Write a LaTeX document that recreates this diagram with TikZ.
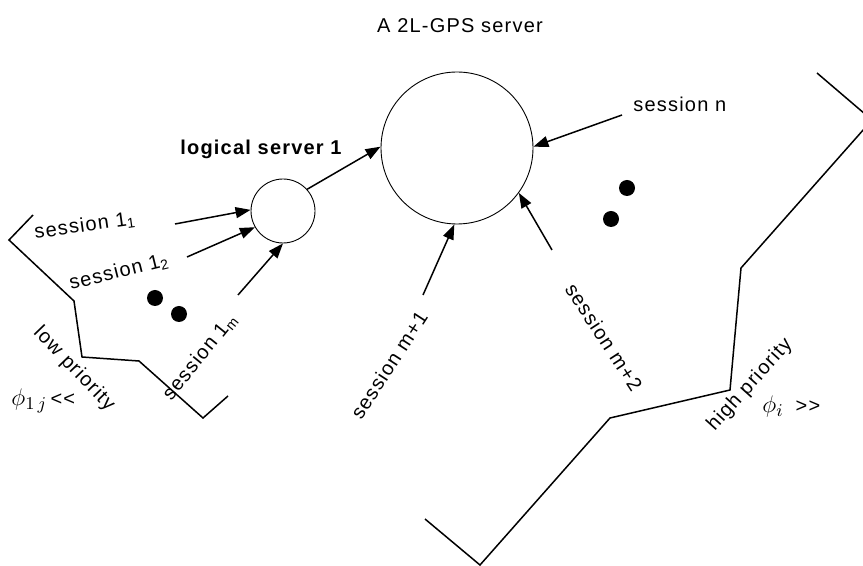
\documentclass[tikz,border=0pt]{standalone}
\usepackage{fontspec}
\setmainfont{Liberation Sans}[LetterSpace=6,Ligatures=TeXOff]
\usetikzlibrary{arrows.meta}

\begin{document}
\begin{tikzpicture}[x=0.5pt,y=-0.5pt,
    >={Triangle[length=7.5pt,width=5.5pt]},
    flow/.style={->,line width=0.75pt},
    border/.style={line width=0.75pt},
    srvcircle/.style={draw,circle,line width=0.45pt,inner sep=0pt},
    lbl/.style={font=\fontsize{10}{12}\selectfont,inner sep=0pt}]
  \useasboundingbox (0,0) rectangle (863,566);
  \clip (0,0) rectangle (863,566);

% title
  \node[lbl,anchor=base] (title) at (460,33) {A 2L-GPS server};

% servers
  \node[srvcircle,minimum size=76pt] (srv) at (457,148) {};
  \node[srvcircle,minimum size=32pt] (ls1) at (283,211) {};
  \node[lbl,anchor=base west,font=\bfseries\fontsize{10}{12}\selectfont] (ls1lbl) at (180,155) {logical server 1};

% sessions of logical server 1
  \coordinate (c11) at (175,224);
  \coordinate (c12) at (187,257);
  \coordinate (c1m) at (238,295);
  \draw[flow] (c11) -- (ls1.178);
  \draw[flow] (c12) -- (ls1.-150);
  \draw[flow] (c1m) -- (ls1.-90);
  \draw[flow] (ls1.42) -- (srv.179);

  \node[lbl,rotate=8] (s11) at (85,226) {session 1\textsubscript{1}};
  \node[lbl,rotate=14] (s12) at (119,272) {session 1\textsubscript{2}};
  \node[lbl,rotate=51] (s1m) at (200,357) {session 1\textsubscript{m}};

% sessions served directly
  \coordinate (cm1) at (423,295);
  \coordinate (cm2) at (552,250);
  \coordinate (cn) at (622,115);
  \draw[flow] (cm1) -- (srv.-92);
  \draw[flow] (cm2) -- (srv.-36);
  \draw[flow] (cn) -- (srv.1);

  \node[lbl,rotate=57] (sm1) at (389,365) {session m+1};
  \node[lbl,rotate=-57] (sm2) at (604,337) {session m+2};
  \node[lbl,anchor=base west] (sn) at (633,112) {session n};

% dots
  \foreach \x/\y in {155/298,179/314,627/188,611/219} {
      \fill (\x,\y) circle (4pt);
  }

% low priority side
  \draw[border] (33,215) -- (9,240) -- (74,301) -- (82,357) -- (139,361) -- (203,418) -- (228,396);
  \node[lbl,rotate=-46] (low) at (74,369) {low priority};
  \node[lbl,anchor=base west] (phil) at (11,406) {{\fontsize{13}{14}\selectfont$\phi_{1\,j}$}\,<<};

% high priority side
  \draw[border] (817,73) -- (872,120) -- (741,268) -- (730,390) -- (610,418) -- (480,565) -- (425,519);
  \node[lbl,rotate=48] (high) at (750,385) {high priority};
  \node[lbl,anchor=base west] (phih) at (762,413) {{\fontsize{13}{14}\selectfont$\phi_i$}\hspace{6pt}>>};

\end{tikzpicture}
\end{document}
